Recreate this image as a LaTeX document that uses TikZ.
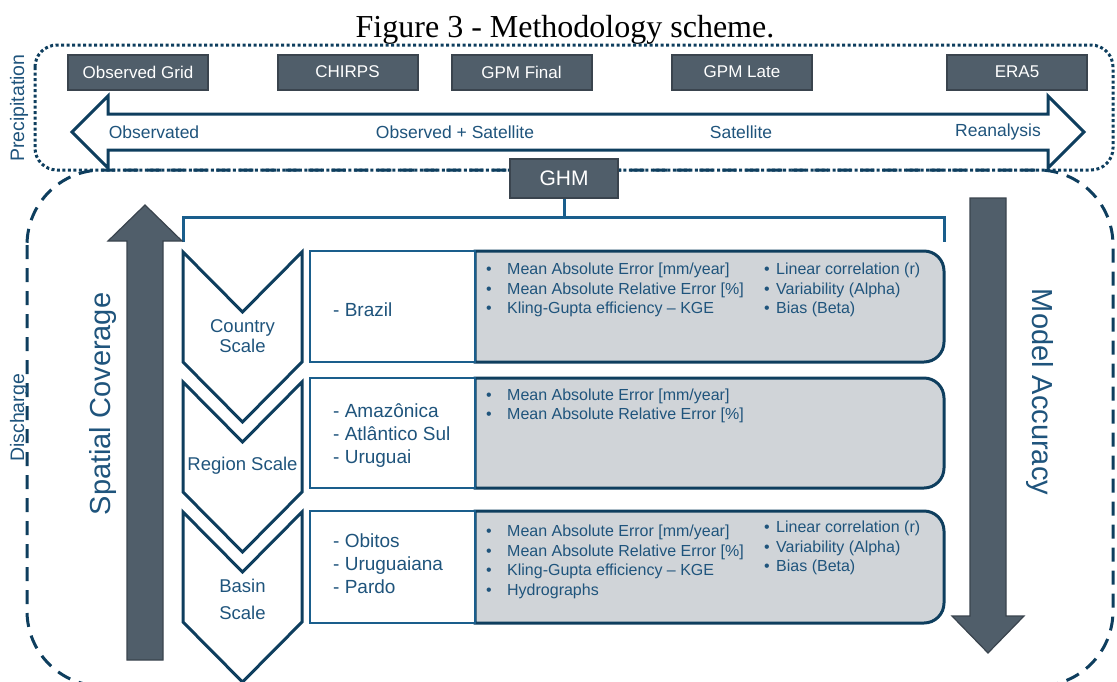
\documentclass[tikz,border=0pt]{standalone}
\usepackage{fontspec}
\setmainfont{Liberation Sans}
\newfontfamily\captionfont{Liberation Serif}
\usetikzlibrary{calc}

\definecolor{navy}{RGB}{14,62,94}
\definecolor{ghmblue}{RGB}{31,84,124}
\definecolor{boxblue}{RGB}{26,94,140}
\definecolor{slate}{RGB}{80,94,106}
\definecolor{slateedge}{RGB}{58,68,78}
\definecolor{metricgrey}{RGB}{208,212,216}

\newcommand{\mb}{\makebox[21pt][l]{\textbullet}}
\newcommand{\mc}{\makebox[12pt][l]{\textbullet}}

\tikzset{
	srcbox/.style={fill=slate, draw=slateedge, line width=2pt, minimum width=140pt, minimum height=35pt, inner sep=0pt, text=white, font=\fontsize{17pt}{20pt}\selectfont},
	flowlabel/.style={text=ghmblue, font=\fontsize{17.5pt}{20pt}\selectfont},
	sidelabel/.style={text=ghmblue, font=\fontsize{19.5pt}{24pt}\selectfont, rotate=90},
	biglabel/.style={text=ghmblue, font=\fontsize{29pt}{32pt}\selectfont},
	scalelabel/.style={text=ghmblue, align=center, inner sep=0pt},
	sitebox/.style={draw=boxblue, line width=2.5pt, fill=white, minimum width=165pt, minimum height=110pt, inner sep=0pt},
	sitetext/.style={text=ghmblue, font=\fontsize{19pt}{23pt}\selectfont, align=left, anchor=west, inner sep=0pt},
	metrictext/.style={text=ghmblue, font=\fontsize{16pt}{19.5pt}\selectfont, align=left, anchor=west, inner sep=0pt},
	outline/.style={draw=navy, line width=3pt, line join=miter},
	bigarrow/.style={fill=slate, draw=slateedge, line width=1.2pt},
	precipframe/.style={draw=navy, line width=3pt, dash pattern=on 3pt off 2.5pt, rounded corners=22pt},
	dischargeframe/.style={draw=navy, line width=3pt, dash pattern=on 14pt off 9pt, rounded corners=75pt},
	bracket/.style={draw=boxblue, line width=3pt},
}

\begin{document}
\begin{tikzpicture}[x=1pt,y=-1pt]
	%%%%% START %%%%%
	\useasboundingbox (0,0) rectangle (1117,681);
	\clip (0,0) rectangle (1117,681);
	
	\node[anchor=base, font=\captionfont\fontsize{32pt}{36pt}\selectfont] (title) at (565,37.5) {Figure 3 - Methodology scheme.};
	
	% frames
	\draw[precipframe] (35,45) rectangle (1113,170);
	\draw[dischargeframe] (27,170) rectangle (1113,686);
	\node[sidelabel] (precip) at (19,108) {Precipitation};
	\node[sidelabel] (discharge) at (19,418) {Discharge};
	
	% precipitation products
	\node[srcbox] (obsgrid) at (138,72) {Observed Grid};
	\node[srcbox] (chirps) at (347.5,72) {CHIRPS};
	\node[srcbox] (gpmfinal) at (521.5,72) {GPM Final};
	\node[srcbox] (gpmlate) at (742,72) {GPM Late};
	\node[srcbox] (era) at (1017,72) {ERA5};
	
	\draw[outline, fill=white] (72,132) -- (108,96) -- (108,114) -- (1048,114) -- (1048,96) -- (1084,132) -- (1048,168) -- (1048,150) -- (108,150) -- (108,168) -- cycle;
	\node[flowlabel] (observ) at (154,132) {Observated};
	\node[flowlabel] (obssat) at (455,132) {Observed + Satellite};
	\node[flowlabel] (sat) at (741,132) {Satellite};
	\node[flowlabel] (rean) at (998,132) {Reanalysis};
	
	% GHM and bracket
	\node[srcbox, minimum width=108pt, minimum height=39pt, font=\fontsize{21pt}{24pt}\selectfont] (ghm) at (564,178) {GHM};
	\coordinate (brkL) at (183,217);
	\coordinate (brkR) at (944,217);
	\coordinate (chevL) at (183,242);
	\coordinate (chevR) at (944,242);
	\draw[bracket] (ghm.south) -- (ghm.south |- brkL);
	\draw[bracket] (chevL) -- (brkL) -- (brkR) -- (chevR);
	
	% side arrows
	\draw[bigarrow] (127,660) -- (163,660) -- (163,241) -- (182,241) -- (145,205) -- (108,241) -- (127,241) -- cycle;
	\node[biglabel, rotate=90] (spatial) at (103,404) {Spatial Coverage};
	\draw[bigarrow] (970,198) -- (1006,198) -- (1006,616) -- (1024,616) -- (988,653) -- (952,616) -- (970,616) -- cycle;
	\node[biglabel, rotate=-90] (accuracy) at (1040,392) {Model Accuracy};
	
	% scales
	\foreach \ytop in {252,382,512}
		\draw[outline] (183,\ytop) -- (242.5,\ytop+60) -- (302,\ytop) -- (302,\ytop+110) -- (242.5,\ytop+170) -- (183,\ytop+110) -- cycle;
	\node[scalelabel, font=\fontsize{18.5pt}{20pt}\selectfont] (country) at (242.5,336) {Country\\Scale};
	\node[scalelabel, font=\fontsize{18.5pt}{20pt}\selectfont] (region) at (242.5,466) {Region Scale};
	\node[scalelabel, font=\fontsize{18.5pt}{27pt}\selectfont] (basin) at (242.5,599) {Basin\\Scale};
	
	% metric panels
	\foreach \ytop/\ybot in {251/362,378/488,511/623}
		\draw[outline, fill=metricgrey] (475,\ytop) -- (924,\ytop) arc[start angle=-90, end angle=0, radius=20] -- (944,\ybot-20) arc[start angle=0, end angle=90, radius=20] -- (475,\ybot) -- cycle;
	
	\node[sitebox, minimum height=111pt] (site1) at (392.5,306.5) {};
	\node[sitebox, minimum height=110pt] (site2) at (392.5,433) {};
	\node[sitebox, minimum height=112pt] (site3) at (392.5,567) {};
	
	\node[sitetext] (brazil) at (333,310) {- Brazil};
	\node[sitetext] (regions) at (333,436) {- Amazônica\\- Atlântico Sul\\- Uruguai};
	\node[sitetext] (basins) at (333,564) {- Obitos\\- Uruguaiana\\- Pardo};
	
	\node[metrictext] (countryA) at (486,290) {\mb Mean Absolute Error [mm/year]\\\mb Mean Absolute Relative Error [\%]\\\mb Kling-Gupta efficiency -- KGE};
	\node[metrictext] (countryB) at (764,290) {\mc Linear correlation (r)\\\mc Variability (Alpha)\\\mc Bias (Beta)};
	\node[metrictext] (regionA) at (486,406) {\mb Mean Absolute Error [mm/year]\\\mb Mean Absolute Relative Error [\%]};
	\node[metrictext] (basinA) at (486,562) {\mb Mean Absolute Error [mm/year]\\\mb Mean Absolute Relative Error [\%]\\\mb Kling-Gupta efficiency -- KGE\\\mb Hydrographs};
	\node[metrictext] (basinB) at (764,548) {\mc Linear correlation (r)\\\mc Variability (Alpha)\\\mc Bias (Beta)};
	
	%%%%% END %%%%%
\end{tikzpicture}
\end{document}
